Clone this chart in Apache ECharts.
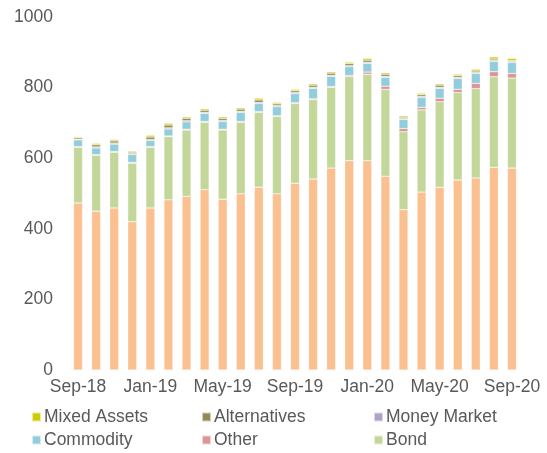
<!DOCTYPE html>
<html>
<head>
<meta charset="utf-8">
<script src="https://cdn.jsdelivr.net/npm/echarts@6/dist/echarts.min.js"></script>
<style>
  html, body { margin: 0; padding: 0; background: #fff; }
  #chart { width: 547px; height: 453px; }
</style>
</head>
<body>
<div id="chart"></div>
<script>
const months = [
  "Sep-18", "Oct-18", "Nov-18", "Dec-18", "Jan-19", "Feb-19", "Mar-19", "Apr-19", "May-19",
  "Jun-19", "Jul-19", "Aug-19", "Sep-19", "Oct-19", "Nov-19", "Dec-19", "Jan-20", "Feb-20",
  "Mar-20", "Apr-20", "May-20", "Jun-20", "Jul-20", "Aug-20", "Sep-20"
];
const equity = [473, 450, 459, 420, 459, 482, 492, 511, 484, 499, 518, 499, 529, 541, 572, 593, 593, 549, 454, 504, 518, 538, 544, 574, 572];
const bond = [158, 158, 158, 166, 172, 179, 188, 191, 196, 203, 212, 219, 226, 225, 229, 238, 245, 246, 221, 233, 242, 248, 253, 257, 255];
const other = [2, 2, 2, 2, 2, 2, 2, 2, 2, 2, 2, 2, 2, 2, 2, 3, 6, 9, 9, 7, 10, 9, 15, 14, 13];
const commodity = [19, 19, 21, 22, 17, 20, 21, 23, 22, 26, 23, 26, 26, 30, 29, 25, 25, 25, 26, 28, 28, 31, 28, 29, 31];
const moneyMarket = [2, 3, 3, 3, 3, 3, 3, 3, 3, 3, 3, 3, 3, 3, 3, 3, 3, 3, 2, 3, 3, 3, 3, 3, 3];
const alternatives = [4, 6, 6, 4, 7, 8, 7, 6, 6, 6, 7, 5, 5, 6, 6, 6, 6, 6, 4, 5, 6, 5, 4, 4, 3];
const mixedAssets = [3, 4, 4, 3, 5, 5, 4, 4, 4, 4, 5, 4, 4, 4, 4, 4, 5, 4, 4, 4, 4, 4, 5, 6, 6];
const yTicks = [0, 200, 400, 600, 800, 1000];

const textColor = "#595959";
const font = "Liberation Sans, Arial, sans-serif";
const fontSize = 17.5;

const seriesDefs = [
  { name: "Equity", data: equity, color: "#FAC090" },
  { name: "Bond", data: bond, color: "#C4D79B" },
  { name: "Other", data: other, color: "#DA9694" },
  { name: "Commodity", data: commodity, color: "#92CDDC" },
  { name: "Money Market", data: moneyMarket, color: "#B1A0C7" },
  { name: "Alternatives", data: alternatives, color: "#948A54" },
  { name: "Mixed Assets", data: mixedAssets, color: "#CCCC00" },
];

const legendBase = {
  orient: "vertical",
  top: 408,
  height: 60,
  padding: 0,
  icon: "rect",
  itemWidth: 9,
  itemHeight: 9,
  itemGap: 5,
  selectedMode: false,
  textStyle: { color: textColor, fontSize: fontSize, fontFamily: font, lineHeight: 18, padding: [0, 0, 0, -2] },
};

const chart = echarts.init(document.getElementById("chart"), null, { renderer: "canvas" });
chart.setOption({
  animation: false,
  grid: { left: 69, right: 26, top: 17, bottom: 83 },
  legend: [
    { ...legendBase, left: 31, data: ["Mixed Assets", "Commodity"] },
    { ...legendBase, left: 201, data: ["Alternatives", "Other"] },
    { ...legendBase, left: 373, data: ["Money Market", "Bond"] },
  ],
  xAxis: {
    type: "category",
    data: months,
    axisLine: { show: false },
    axisTick: { show: false },
    axisLabel: {
      interval: 3,
      color: textColor,
      fontSize: fontSize,
      fontFamily: font,
      margin: 8,
    },
  },
  yAxis: {
    type: "value",
    min: yTicks[0],
    max: yTicks[yTicks.length - 1],
    interval: 200,
    axisLine: { show: false },
    axisTick: { show: false },
    splitLine: { show: false },
    axisLabel: {
      color: textColor,
      fontSize: fontSize,
      fontFamily: font,
      margin: 16,
      formatter: (v) => String(v),
    },
  },
  series: seriesDefs.map((s) => ({
    name: s.name,
    type: "bar",
    stack: "aum",
    data: s.data,
    barWidth: 9,
    itemStyle: { color: s.color, borderColor: "rgba(255,255,255,0.6)", borderWidth: 0.5 },
  })),
});
</script>
</body>
</html>
